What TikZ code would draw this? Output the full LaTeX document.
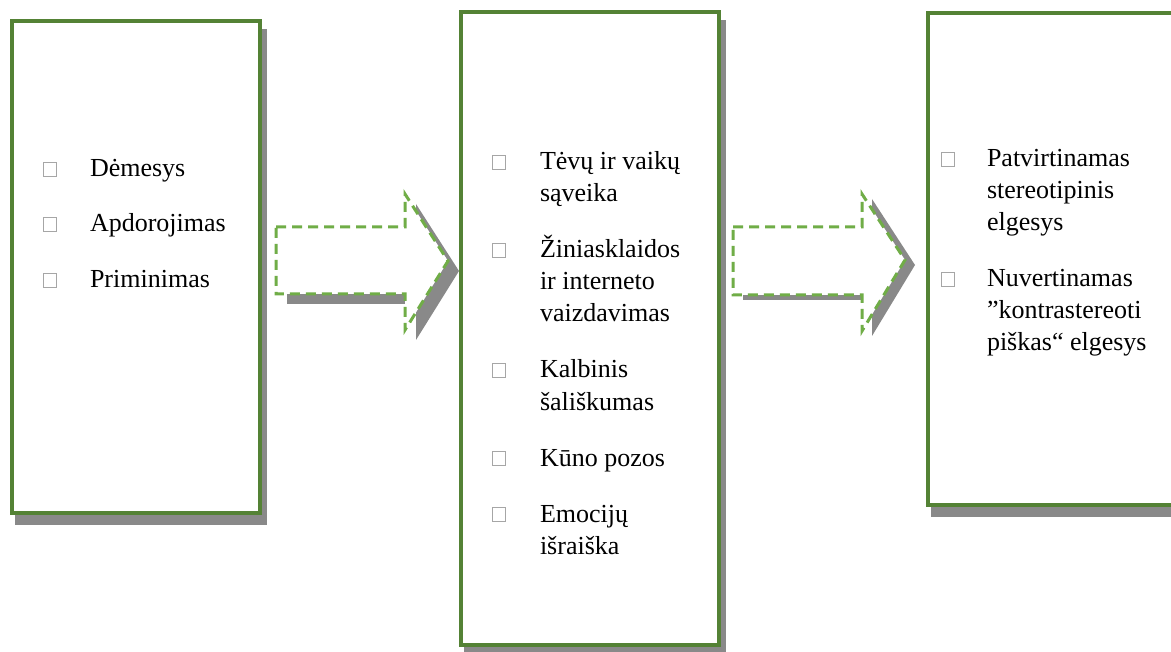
\documentclass[tikz,border=0pt]{standalone}
\usepackage{fontspec}
\setmainfont{Liberation Serif}
\usetikzlibrary{backgrounds}
\definecolor{boxgreen}{HTML}{548235}
\definecolor{dashgreen}{HTML}{70AD47}
\definecolor{shgray}{HTML}{898989}
\definecolor{bulletgray}{HTML}{A6A6A6}
\begin{document}
\begin{tikzpicture}[x=1pt,y=-1pt,
  box/.style={draw=boxgreen,line width=4pt,fill=white,rectangle,inner sep=0pt,outer sep=0pt},
  shadowfill/.style={fill=shgray},
  blockarrow/.style={draw=dashgreen,line width=3pt,dash pattern=on 10pt off 6pt,fill=white,line join=miter},
  bul/.style={draw=bulletgray,line width=0.8pt,rectangle,inner sep=0pt,outer sep=0pt,minimum width=13pt,minimum height=14pt,anchor=south west},
  txt/.style={anchor=base west,inner sep=0pt,outer sep=0pt,font=\fontsize{26}{32}\selectfont}]
\useasboundingbox (0,0) rectangle (1171,652);
\clip (0,0) rectangle (1171,652);

% boxes (centre lines)
\node[box,minimum width=248pt,minimum height=492pt] (b1) at (136,267) {};
\node[box,minimum width=258pt,minimum height=633pt] (b2) at (590,328.5) {};
\node[box,minimum width=252pt,minimum height=492pt] (b3) at (1054,259) {};

% shadows behind boxes
\begin{scope}[on background layer]
\fill[shadowfill] ([shift={(3,8)}]b1.north west) rectangle ([shift={(7,12)}]b1.south east);
\fill[shadowfill] ([shift={(3,8)}]b2.north west) rectangle ([shift={(7,12)}]b2.south east);
\fill[shadowfill] ([shift={(3,8)}]b3.north west) rectangle ([shift={(7,12)}]b3.south east);
\end{scope}

% block arrows: shadow then dashed outline
\fill[shadowfill,shift={(11,10)}] (276,227) -- (405,227) -- (405,194) -- (448,261) -- (405,330) -- (405,294) -- (276,294) -- cycle;
\draw[blockarrow] (276,227) -- (405,227) -- (405,194) -- (448,261) -- (405,330) -- (405,294) -- (276,294) -- cycle;
\fill[shadowfill,shift={(10,5)}] (733,227) -- (862,227) -- (862,194) -- (905,260) -- (862,331) -- (862,295) -- (733,295) -- cycle;
\draw[blockarrow] (733,227) -- (862,227) -- (862,194) -- (905,260) -- (862,331) -- (862,295) -- (733,295) -- cycle;

% box 1 items
\node[bul] (u11) at (43,176) {};
\node[txt] (t11) at (90,177) {Dėmesys};
\node[bul] (u12) at (43,231) {};
\node[txt] (t12) at (90,232) {Apdorojimas};
\node[bul] (u13) at (43,287) {};
\node[txt] (t13) at (90,288) {Priminimas};

% box 2 items
\node[bul] (u21) at (492,169) {};
\node[txt] (t21a) at (540,170) {Tėvų ir vaikų};
\node[txt] (t21b) at (540,202) {sąveika};
\node[bul] (u22) at (492,257) {};
\node[txt] (t22a) at (540,258) {Žiniasklaidos};
\node[txt] (t22b) at (540,290) {ir interneto};
\node[txt] (t22c) at (540,322) {vaizdavimas};
\node[bul] (u23) at (492,377) {};
\node[txt] (t23a) at (540,378) {Kalbinis};
\node[txt] (t23b) at (540,410) {šališkumas};
\node[bul] (u24) at (492,465) {};
\node[txt] (t24) at (540,466) {Kūno pozos};
\node[bul] (u25) at (492,521) {};
\node[txt] (t25a) at (540,522) {Emocijų};
\node[txt] (t25b) at (540,554) {išraiška};

% box 3 items
\node[bul] (u31) at (941,166) {};
\node[txt] (t31a) at (987,167) {Patvirtinamas};
\node[txt] (t31b) at (987,199) {stereotipinis};
\node[txt] (t31c) at (987,231) {elgesys};
\node[bul] (u32) at (941,286) {};
\node[txt] (t32a) at (987,287) {Nuvertinamas};
\node[txt] (t32b) at (987,319) {”kontrastereoti};
\node[txt] (t32c) at (987,351) {piškas“ elgesys};
\end{tikzpicture}
\end{document}
